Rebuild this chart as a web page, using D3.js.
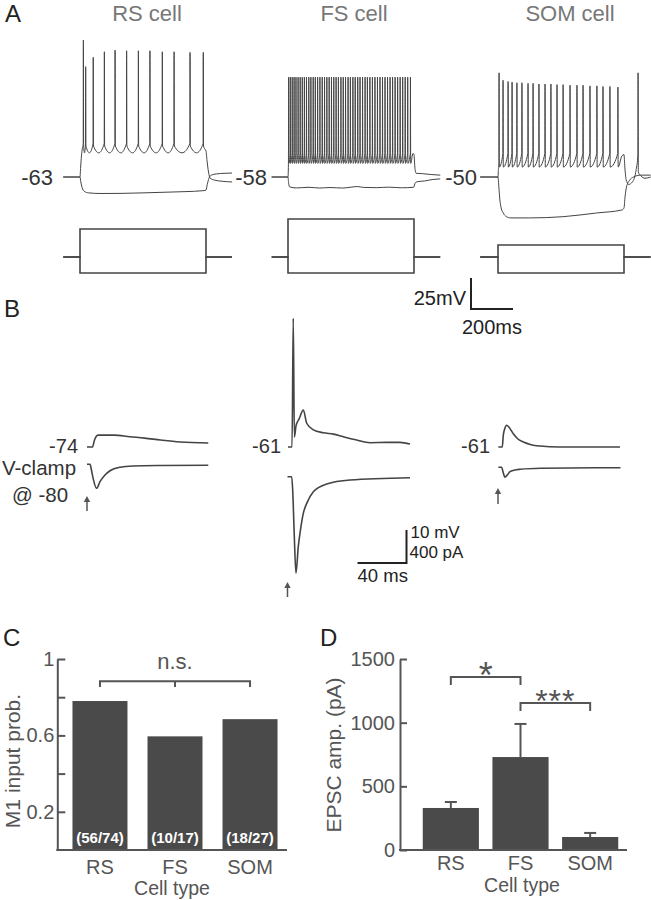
<!DOCTYPE html>
<html><head><meta charset="utf-8">
<script src="https://cdn.jsdelivr.net/npm/d3@7"></script>
<style>
body{margin:0;background:#fff;}
svg{display:block;font-family:"Liberation Sans",Arial,Helvetica,sans-serif;}
</style></head><body>
<svg id="fig" width="651" height="900"></svg>
<script>
// ================= DATA =================
// ---- Panel A (current-clamp step responses; time in ms from step onset, mV) ----
const cellNames = ["RS cell", "FS cell", "SOM cell"];
const restA = [-63, -58, -50];
const stepDur = 600;
const traceSpanA = [[-80, 724], [-78, 725], [-85, 727]];
const stimAmp = [[350, -200], [475, -200], [150, -200]];   // pA (relative)

const rsSpikeT = [16, 27, 63, 116, 167, 222, 278, 333, 392, 448, 524, 587];
const rsSpikePeak = [47.5, 26, 33.5, 38, 39.3, 38.8, 38.8, 38.8, 38, 38, 37.5, 37.5];
const rsThr = -36, rsTrough = -43.5;
const rsPre = [[-80, -63], [0, -63], [3, -55], [7, -46], [11, -40]];
const rsPost = [[593, -40], [600, -42], [605, -50], [612, -59], [620, -64], [640, -65.5], [680, -66.5], [724, -67]];
const rsHyper = [[-80, -63], [0, -63], [4, -67], [10, -71.5], [20, -74.5], [40, -75.8], [100, -76.3], [200, -76.2],
  [300, -75.8], [400, -75.3], [500, -74.8], [590, -74], [600, -73.5], [606, -69], [614, -64], [625, -61.5],
  [650, -60.5], [690, -60], [724, -59.8]];

const fsSpikeT = [3, 11, 20, 29, 38, 48, 58, 68, 78, 88, 99, 109, 120, 130, 141, 152, 163, 174, 185, 196,
  207, 218, 229, 240, 252, 263, 274, 286, 297, 309, 320, 332, 343, 355, 367, 378, 390, 402, 414, 426,
  438, 450, 462, 474, 486, 498, 510, 522, 534, 546, 558, 570, 583];
const fsSpikePeak = 22.5;
const fsThr = -39, fsTrough = -47;
const fsPre = [[-78, -58], [0, -58], [2, -48]];
const fsPost = [[595, -39], [600, -40], [604, -50], [610, -55], [640, -55.3], [680, -56], [725, -56.5]];
const fsHyper = [[-78, -58], [0, -58], [3, -63], [8, -66], [40, -66.8], [100, -66.3], [150, -66.9], [200, -66.5],
  [260, -66.9], [300, -66.2], [330, -65.7], [360, -66.4], [420, -66.6], [480, -66.2], [540, -66.7], [596, -66.3],
  [600, -66], [605, -63], [615, -61.8], [650, -61.2], [690, -60], [725, -59.5]];

const somSpikeT = [5, 24, 48, 67, 90, 114, 143, 167, 195, 224, 252, 281, 310, 343, 376, 405, 438, 471, 500, 533, 571];
const somSpikePeak = [34, 28, 27, 26.5, 26, 26, 25.5, 25.5, 25, 25, 25, 24.5, 24.5, 24, 24, 24, 23.5, 23.5, 23, 23, 22.5];
const somThr = -31, somTrough = -42;
const somPre = [[-85, -50], [0, -50], [2, -44], [4, -39]];
const somPost = [[590, -33], [600, -32], [604, -42], [610, -52], [622, -56], [640, -54], [658, -44], [666.3, -32],
  [667, 34], [668.3, -46], [680, -49], [700, -51], [727, -50]];
const somHyper = [[-85, -50], [0, -50], [4, -58], [9, -68.5], [15, -75], [25, -79], [40, -82], [60, -83], [150, -83],
  [310, -82], [470, -79], [590, -76.6], [600, -75], [605, -66], [612, -58], [625, -53], [645, -50], [680, -48.5], [727, -48.5]];

// ---- Panel B (evoked responses; ms from stimulus, mV / pA) ----
const restB = [-74, -61, -61];
const rsEpsp = [[0, -74], [4.5, -74], [6, -72], [7.5, -70.8], [9, -70.4], [22, -70.4], [35, -70.9], [47, -71.3],
  [60, -71.9], [76, -72.5], [99, -72.8]];
const rsEpsc = [[0, 0], [2.5, 0], [3.5, -60], [5, -170], [7.8, -291], [10.6, -211], [14.7, -130], [18.8, -78],
  [26.9, -36], [37.5, -21], [60, -15], [99, -12]];
const fsEpsp = [[0.4, -61], [3.7, -61], [4.7, -22], [5.6, -58], [7, -54.5], [9.5, -52.5], [12.9, -49.8], [15.7, -53.8],
  [21.1, -55.8], [29.2, -56.7], [37.4, -57.1], [45.6, -57.9], [56.5, -58.9], [67.3, -59.7], [81, -59.6], [91.8, -59.6], [100, -60.1]];
const fsEpsc = [[0, 0], [3.4, 0], [4.2, -150], [5.5, -700], [6.9, -1170], [8.8, -848], [10.2, -686], [12.9, -444],
  [15.7, -323], [21.1, -182], [32, -88], [51, -40], [100, -12]];
const somEpsp = [[0.3, -61], [3.5, -61], [4.3, -57.5], [5.5, -55.5], [7.1, -54.4], [9, -55], [12.5, -57], [16, -58.5],
  [20.7, -59.5], [27, -60.3], [34.3, -60.7], [50, -61], [99.6, -61]];
const somEpsc = [[0.3, 0], [3, 0], [4, -50], [5.7, -120], [7.5, -95], [9.8, -53], [13, -35], [18, -24], [35, -12], [100, -5]];

// ---- Panels C & D ----
const cellTypes = ["RS", "FS", "SOM"];
const inputProb = [0.78, 0.595, 0.685];
const probCounts = ["(56/74)", "(10/17)", "(18/27)"];
const probTicks = [0.2, 0.4, 0.6, 0.8, 1];
const probTickLabels = ["0.2", "", "0.6", "", "1"];
const epscAmp = [330, 730, 102];
const epscSem = [47, 260, 32];
const ampTicks = [0, 500, 1000, 1500];

// ================= DRAWING =================
const svg = d3.select("#fig");
const INK = "#444", AX = "#555", TXT = "#333";

function txt(x, y, s, o = {}) {
  const t = svg.append("text").attr("x", x).attr("y", y).text(s)
    .attr("font-size", o.fs || 20).attr("fill", o.fill || TXT)
    .attr("text-anchor", o.anchor || "start");
  if (o.weight) t.attr("font-weight", o.weight);
  if (o.ls) t.attr("letter-spacing", o.ls);
  return t;
}
function buildSpiking(pre, spikeT, peaks, thr, trough, uShape, post) {
  const pts = pre.map(d => d.slice());
  spikeT.forEach((t, k) => {
    const pk = Array.isArray(peaks) ? peaks[k] : peaks;
    const next = spikeT[k + 1];
    pts.push([t - 0.7, thr], [t, pk]);
    if (uShape) {
      pts.push([t + 1.2, thr - 2]);
      if (next !== undefined) pts.push([(t + next) / 2, trough]);
    } else {
      pts.push([t + 1.2, trough]);
    }
  });
  post.forEach(d => pts.push(d.slice()));
  return pts.sort((a, b) => a[0] - b[0]);
}

// Panel letters
txt(5, 22, "A", { fs: 24, fill: "#222" });
txt(4, 317, "B", { fs: 24, fill: "#222" });
txt(3, 646, "C", { fs: 24, fill: "#222" });
txt(320, 646, "D", { fs: 24, fill: "#222" });

// ---------- Panel A ----------
const aStepX = [80, 288, 498];
const aBaseY = 177, aMvPx = 1.24, aMsPx = 0.21;
const stimBaseY = 257, stimPx = 0.08;
const titleX = [147, 354, 570];
const labelEndA = [53, 267, 477];

const upperA = [
  buildSpiking(rsPre, rsSpikeT, rsSpikePeak, rsThr, rsTrough, true, rsPost),
  buildSpiking(fsPre, fsSpikeT, fsSpikePeak, fsThr, fsTrough, false, fsPost),
  buildSpiking(somPre, somSpikeT, somSpikePeak, somThr, somTrough, false, somPost)
];
const lowerA = [rsHyper, fsHyper, somHyper];

for (let i = 0; i < 3; i++) {
  const xs = d3.scaleLinear().domain([0, stepDur]).range([aStepX[i], aStepX[i] + stepDur * aMsPx]);
  const ys = d3.scaleLinear().domain([restA[i], restA[i] + 25]).range([aBaseY, aBaseY - 25 * aMvPx]);
  const line = d3.line().x(d => xs(d[0])).y(d => ys(d[1])).curve(d3.curveMonotoneX);
  txt(titleX[i], 21, cellNames[i], { fs: 22, fill: "#777", anchor: "middle" });
  txt(labelEndA[i], 185, String(restA[i]), { fs: 22, anchor: "end" });
  [lowerA[i], upperA[i]].forEach(tr => {
    svg.append("path").attr("d", line(tr)).attr("fill", "none")
      .attr("stroke", INK).attr("stroke-width", 1).attr("stroke-linejoin", "round");
  });
  // stimulus
  const ysStim = d3.scaleLinear().domain([0, 100]).range([stimBaseY, stimBaseY - 100 * stimPx]);
  const sLine = d3.line().x(d => xs(d[0])).y(d => ysStim(d[1])).curve(d3.curveStepAfter);
  const span = traceSpanA[i];
  stimAmp[i].forEach(a => {
    svg.append("path").attr("d", sLine([[span[0], 0], [0, a], [stepDur, 0], [span[1], 0]]))
      .attr("fill", "none").attr("stroke", INK).attr("stroke-width", 1.6);
  });
  if (i === 2) {
    // scale bar 25 mV / 200 ms
    const x0 = 471, y0 = 309;
    const h = ys(restA[i]) - ys(restA[i] + 25);
    const w = xs(200) - xs(0);
    svg.append("path").attr("d", `M${x0},${y0 - h}L${x0},${y0}L${x0 + w},${y0}`)
      .attr("fill", "none").attr("stroke", "#222").attr("stroke-width", 2);
    txt(x0 - 5, 305, "25mV", { fs: 20, fill: "#222", anchor: "end" });
    txt(x0 - 9, 334, "200ms", { fs: 20, fill: "#222" });
  }
}

// ---------- Panel B ----------
const bX0 = [87, 287.5, 498];
const bMsPx = 1.225, bMvPx = 3.3, bPaPx = 0.0825;
const bVbaseY = 447;
const bIbaseY = [464.3, 476.7, 467.3];
const epsps = [rsEpsp, fsEpsp, somEpsp];
const epscs = [rsEpsc, fsEpsc, somEpsc];
const labelEndB = [78, 281, 490];
const arrowY = [[511, 496], [597, 582], [504, 488]];

for (let i = 0; i < 3; i++) {
  const xs = d3.scaleLinear().domain([0, 100]).range([bX0[i], bX0[i] + 100 * bMsPx]);
  const yv = d3.scaleLinear().domain([restB[i], restB[i] + 10]).range([bVbaseY, bVbaseY - 10 * bMvPx]);
  const yi = d3.scaleLinear().domain([0, -400]).range([bIbaseY[i], bIbaseY[i] + 400 * bPaPx]);
  const lv = d3.line().x(d => xs(d[0])).y(d => yv(d[1])).curve(d3.curveMonotoneX);
  const li = d3.line().x(d => xs(d[0])).y(d => yi(d[1])).curve(d3.curveMonotoneX);
  svg.append("path").attr("d", lv(epsps[i])).attr("fill", "none").attr("stroke", INK).attr("stroke-width", 1.6);
  svg.append("path").attr("d", li(epscs[i])).attr("fill", "none").attr("stroke", INK).attr("stroke-width", 1.6);
  txt(labelEndB[i], 453, String(restB[i]), { fs: 20, anchor: "end" });
  // stimulus arrow
  const ax = xs(0), [yb, yt] = arrowY[i];
  svg.append("line").attr("x1", ax).attr("x2", ax).attr("y1", yb).attr("y2", yt + 4)
    .attr("stroke", AX).attr("stroke-width", 1.5);
  svg.append("path").attr("d", `M${ax - 3.2},${yt + 6}L${ax},${yt}L${ax + 3.2},${yt + 6}Z`).attr("fill", AX);
  if (i === 1) {
    const x0 = 406.5, y0 = 563;
    const h = yv(restB[i]) - yv(restB[i] + 10);
    const w = xs(40) - xs(0);
    svg.append("path").attr("d", `M${x0},${y0 - h}L${x0},${y0}L${x0 - w},${y0}`)
      .attr("fill", "none").attr("stroke", "#222").attr("stroke-width", 2);
    txt(x0 + 4, 538, "10 mV", { fs: 17, fill: "#222" });
    txt(x0 + 3, 558, "400 pA", { fs: 17, fill: "#222" });
    txt(x0 - w, 582, "40 ms", { fs: 18.5, fill: "#222" });
  }
}
txt(2, 475, "V-clamp", { fs: 20.5 });
txt(12, 502, "@ -80", { fs: 20.5 });

// ---------- Panel C ----------
const BAR = "#4a4a4a";
const yC = d3.scaleLinear().domain([0, 1]).range([850, 659]);
const xC = d3.scaleBand().domain(cellTypes).range([62.5, 287.5]).paddingInner(0.267).paddingOuter(0.133);
const gC = svg.append("g");
gC.selectAll("rect").data(cellTypes).join("rect")
  .attr("x", d => xC(d)).attr("width", xC.bandwidth())
  .attr("y", (d, i) => yC(inputProb[i])).attr("height", (d, i) => yC(0) - yC(inputProb[i]))
  .attr("fill", BAR);
gC.selectAll("text.cnt").data(cellTypes).join("text").attr("class", "cnt")
  .attr("x", d => xC(d) + xC.bandwidth() / 2).attr("y", 843)
  .attr("text-anchor", "middle").attr("font-size", 15).attr("font-weight", "bold").attr("fill", "#fff")
  .text((d, i) => probCounts[i]);
const axC = svg.append("g").attr("transform", "translate(57.3,0)")
  .call(d3.axisLeft(yC).tickValues(probTicks).tickSizeInner(-8).tickSizeOuter(0).tickPadding(3)
    .tickFormat((d, i) => probTickLabels[i]));
axC.select(".domain").attr("stroke", AX).attr("stroke-width", 2);
axC.selectAll(".tick line").attr("stroke", AX).attr("stroke-width", 2);
axC.selectAll(".tick text").attr("font-size", 20).attr("fill", AX).attr("font-family", null);
svg.append("line").attr("x1", 56.3).attr("x2", 287).attr("y1", yC(0)).attr("y2", yC(0))
  .attr("stroke", AX).attr("stroke-width", 2);
cellTypes.forEach(d => txt(xC(d) + xC.bandwidth() / 2, 874, d, { fs: 20, fill: AX, anchor: "middle" }));
txt(172, 895, "Cell type", { fs: 19.5, fill: AX, anchor: "middle" });
svg.append("text").attr("transform", "translate(20,761) rotate(-90)").attr("text-anchor", "middle")
  .attr("font-size", 21).attr("fill", AX).text("M1 input prob.");
{
  const cx = cellTypes.map(d => xC(d) + xC.bandwidth() / 2);
  const yb = yC(0.884), yt = yC(0.853);
  svg.append("path").attr("d", `M${cx[0]},${yt}L${cx[0]},${yb}L${cx[2]},${yb}L${cx[2]},${yt}M${cx[1]},${yb}L${cx[1]},${yt}`)
    .attr("fill", "none").attr("stroke", AX).attr("stroke-width", 2);
  txt(cx[1], 669, "n.s.", { fs: 22, fill: AX, anchor: "middle" });
}

// ---------- Panel D ----------
const yD = d3.scaleLinear().domain([0, 1500]).range([850, 659]);
const xD = d3.scaleBand().domain(cellTypes).range([416, 625]).paddingInner(0.194).paddingOuter(0.097);
const gD = svg.append("g");
const cxD = cellTypes.map(d => xD(d) + xD.bandwidth() / 2);
gD.selectAll("line.err").data(cellTypes).join("line").attr("class", "err")
  .attr("x1", (d, i) => cxD[i]).attr("x2", (d, i) => cxD[i])
  .attr("y1", (d, i) => yD(epscAmp[i])).attr("y2", (d, i) => yD(epscAmp[i] + epscSem[i]))
  .attr("stroke", AX).attr("stroke-width", 2);
gD.selectAll("line.cap").data(cellTypes).join("line").attr("class", "cap")
  .attr("x1", (d, i) => cxD[i] - 6).attr("x2", (d, i) => cxD[i] + 6)
  .attr("y1", (d, i) => yD(epscAmp[i] + epscSem[i])).attr("y2", (d, i) => yD(epscAmp[i] + epscSem[i]))
  .attr("stroke", AX).attr("stroke-width", 2);
gD.selectAll("rect").data(cellTypes).join("rect")
  .attr("x", d => xD(d)).attr("width", xD.bandwidth())
  .attr("y", (d, i) => yD(epscAmp[i])).attr("height", (d, i) => yD(0) - yD(epscAmp[i]))
  .attr("fill", BAR);
const axD = svg.append("g").attr("transform", "translate(400,0)")
  .call(d3.axisLeft(yD).tickValues(ampTicks).tickSizeInner(-7).tickSizeOuter(0).tickPadding(5).tickFormat(d3.format("d")));
axD.select(".domain").attr("stroke", AX).attr("stroke-width", 2);
axD.selectAll(".tick line").attr("stroke", AX).attr("stroke-width", 2);
axD.selectAll(".tick text").attr("font-size", 20).attr("fill", AX).attr("font-family", null);
svg.append("line").attr("x1", 399).attr("x2", 627).attr("y1", yD(0)).attr("y2", yD(0))
  .attr("stroke", AX).attr("stroke-width", 2);
cellTypes.forEach((d, i) => txt(cxD[i], 870, d, { fs: 20, fill: AX, anchor: "middle" }));
txt(522, 892, "Cell type", { fs: 19.5, fill: AX, anchor: "middle" });
svg.append("text").attr("transform", "translate(341,755) rotate(-90)").attr("text-anchor", "middle")
  .attr("font-size", 21).attr("fill", AX).text("EPSC amp. (pA)");
{
  const b1 = yD(1359), t1 = yD(1296), b2 = yD(1155), t2 = yD(1092);
  svg.append("path").attr("d", `M${cxD[0]},${t1}L${cxD[0]},${b1}L${cxD[1]},${b1}L${cxD[1]},${t1}`)
    .attr("fill", "none").attr("stroke", AX).attr("stroke-width", 2);
  svg.append("path").attr("d", `M${cxD[1]},${t2}L${cxD[1]},${b2}L${cxD[2]},${b2}L${cxD[2]},${t2}`)
    .attr("fill", "none").attr("stroke", AX).attr("stroke-width", 2);
  txt((cxD[0] + cxD[1]) / 2, 688, "*", { fs: 36, fill: AX, anchor: "middle" });
  txt((cxD[1] + cxD[2]) / 2, 712, "***", { fs: 32, fill: AX, anchor: "middle", ls: 1 });
}
</script>
</body></html>
